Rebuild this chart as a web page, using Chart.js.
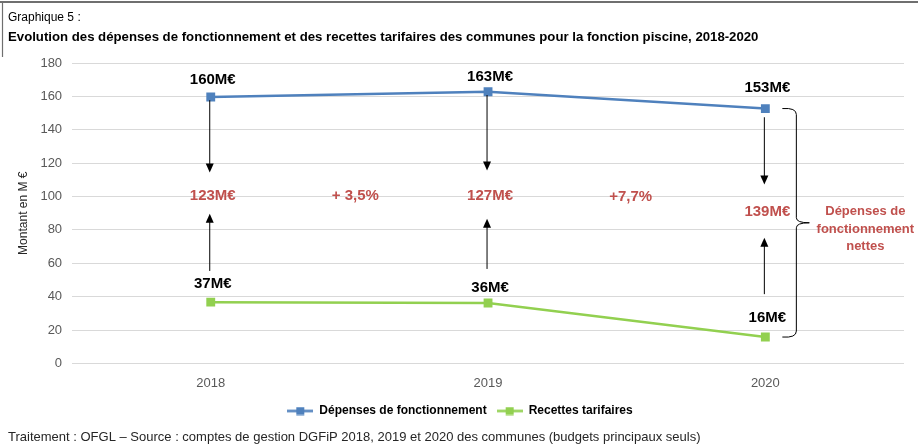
<!DOCTYPE html>
<html>
<head>
<meta charset="utf-8">
<script src="https://cdn.jsdelivr.net/npm/chart.js@4.4.1/dist/chart.umd.min.js"></script>
<style>
  html, body { margin: 0; padding: 0; background: #fff; }
  #wrap { position: relative; width: 918px; height: 444px; }
</style>
</head>
<body>
<div id="wrap"><canvas id="chart" width="918" height="444"></canvas></div>
<script>
// data
const years = ['2018', '2019', '2020'];
const depenses = [159.6, 162.8, 152.7];
const recettes = [36.7, 36.2, 15.8];
const depLabels = ['160M€', '163M€', '153M€'];
const recLabels = ['37M€', '36M€', '16M€'];
const netLabels = ['123M€', '127M€', '139M€'];
const growthLabels = ['+ 3,5%', '+7,7%'];

const FONT = "'Liberation Sans', Arial, sans-serif";
const RED = '#c0504d';
const BLUE = '#4f81bd';
const GREEN = '#92d050';

// annotation placement (value units on the y axis)
const netY = [100.5, 100.5, 91];
const growthY = [100.5, 99.5];
const downArrows = [[157.7, 114.4], [160.8, 115.6], [147.5, 107.2]];
const upArrows = [[55.4, 89.7], [56.6, 86.7], [41.5, 75.3]];
const depLabelY = [170, 171.5, 165];
const recLabelY = [47.5, 45, 27.5];

// legend icons : line with a square
function legendIcon(color) {
  const c = document.createElement('canvas');
  c.width = 26; c.height = 9;
  const x = c.getContext('2d');
  x.strokeStyle = color; x.lineWidth = 2.5;
  x.beginPath(); x.moveTo(0, 4.5); x.lineTo(26, 4.5); x.stroke();
  x.fillStyle = color; x.fillRect(9, 0.5, 8, 8);
  return c;
}
const icons = [legendIcon(BLUE), legendIcon(GREEN)];

function arrow(ctx, x, y1, y2) {
  const dir = y2 > y1 ? 1 : -1;
  ctx.beginPath();
  ctx.moveTo(x, y1); ctx.lineTo(x, y2 - dir * 8);
  ctx.stroke();
  ctx.beginPath();
  ctx.moveTo(x, y2); ctx.lineTo(x - 4, y2 - dir * 9); ctx.lineTo(x + 4, y2 - dir * 9);
  ctx.closePath(); ctx.fill();
}

const annotations = {
  id: 'annotations',
  afterDatasetsDraw(chart) {
    const ctx = chart.ctx, xs = chart.scales.x, ys = chart.scales.y;
    ctx.save();
    // frame bits
    ctx.strokeStyle = '#6f6f6f'; ctx.lineWidth = 2;
    ctx.beginPath(); ctx.moveTo(0, 2); ctx.lineTo(918, 2); ctx.stroke();
    ctx.lineWidth = 1.2;
    ctx.beginPath(); ctx.moveTo(2.5, 2); ctx.lineTo(2.5, 57); ctx.stroke();

    // titles
    ctx.fillStyle = '#000';
    ctx.textAlign = 'left'; ctx.textBaseline = 'middle';
    ctx.font = '12px ' + FONT;
    ctx.fillText('Graphique 5 :', 8, 18);
    ctx.font = 'bold 13.2px ' + FONT;
    ctx.fillText('Evolution des dépenses de fonctionnement et des recettes tarifaires des communes pour la fonction piscine, 2018-2020', 8, 37);
    ctx.font = '13px ' + FONT;
    ctx.fillStyle = '#262626';
    ctx.fillText('Traitement : OFGL – Source : comptes de gestion DGFiP 2018, 2019 et 2020 des communes (budgets principaux seuls)', 8, 437);

    // value labels
    ctx.textAlign = 'center';
    ctx.font = 'bold 15px ' + FONT;
    ctx.fillStyle = '#000';
    years.forEach((y, i) => {
      const px = xs.getPixelForValue(i);
      ctx.fillText(depLabels[i], px + 2, ys.getPixelForValue(depLabelY[i]));
      ctx.fillText(recLabels[i], px + 2, ys.getPixelForValue(recLabelY[i]));
    });

    // arrows
    ctx.strokeStyle = '#000'; ctx.fillStyle = '#000'; ctx.lineWidth = 1;
    years.forEach((y, i) => {
      const px = xs.getPixelForValue(i) - 1;
      arrow(ctx, px, ys.getPixelForValue(downArrows[i][0]), ys.getPixelForValue(downArrows[i][1]));
      arrow(ctx, px, ys.getPixelForValue(upArrows[i][0]), ys.getPixelForValue(upArrows[i][1]));
    });

    // net labels and growth
    ctx.fillStyle = RED;
    ctx.font = 'bold 15px ' + FONT;
    years.forEach((y, i) => {
      ctx.fillText(netLabels[i], xs.getPixelForValue(i) + 2, ys.getPixelForValue(netY[i]));
    });
    growthLabels.forEach((g, i) => {
      const mid = (xs.getPixelForValue(i) + xs.getPixelForValue(i + 1)) / 2;
      ctx.fillText(g, mid + 6 - i * 2, ys.getPixelForValue(growthY[i]));
    });

    // brace on the last year
    const bx = xs.getPixelForValue(2);
    const top = ys.getPixelForValue(depenses[2]);
    const bot = ys.getPixelForValue(recettes[2]);
    const mid = (top + bot) / 2;
    const x0 = bx + 17, x1 = bx + 31, x2 = bx + 44;
    ctx.strokeStyle = '#000'; ctx.lineWidth = 1;
    ctx.beginPath();
    ctx.moveTo(x0, top);
    ctx.quadraticCurveTo(x1, top - 1, x1, top + 6);
    ctx.lineTo(x1, mid - 5);
    ctx.quadraticCurveTo(x1, mid, x2, mid);
    ctx.quadraticCurveTo(x1, mid, x1, mid + 5);
    ctx.lineTo(x1, bot - 6);
    ctx.quadraticCurveTo(x1, bot + 1, x0, bot);
    ctx.stroke();

    ctx.fillStyle = RED;
    ctx.font = 'bold 13px ' + FONT;
    ['Dépenses de', 'fonctionnement', 'nettes'].forEach((t, k) => {
      ctx.fillText(t, bx + 100, mid - 11 + k * 17.5);
    });
    ctx.restore();
  }
};

new Chart(document.getElementById('chart'), {
  type: 'line',
  data: {
    labels: years,
    datasets: [
      {
        label: 'Dépenses de fonctionnement',
        data: depenses,
        borderColor: BLUE, backgroundColor: BLUE,
        borderWidth: 2.5, pointStyle: 'rect', pointRadius: 4.5, pointHoverRadius: 4.5
      },
      {
        label: 'Recettes tarifaires',
        data: recettes,
        borderColor: GREEN, backgroundColor: GREEN,
        borderWidth: 2.5, pointStyle: 'rect', pointRadius: 4.5, pointHoverRadius: 4.5
      }
    ]
  },
  options: {
    responsive: false,
    animation: false,
    layout: { padding: { top: 63, left: 16, right: 14, bottom: 17 } },
    plugins: {
      tooltip: { enabled: false },
      legend: {
        position: 'bottom',
        labels: {
          usePointStyle: true,
          pointStyleWidth: 26,
          color: '#000',
          padding: 10,
          font: { family: FONT, size: 12, weight: 'bold' },
          generateLabels(chart) {
            const items = Chart.defaults.plugins.legend.labels.generateLabels(chart);
            items.forEach((it, i) => { it.pointStyle = icons[i]; });
            return items;
          }
        }
      }
    },
    scales: {
      x: {
        offset: true,
        grid: { display: false },
        border: { display: false },
        ticks: { color: '#595959', font: { family: FONT, size: 13 }, padding: 4 }
      },
      y: {
        min: 0, max: 180,
        ticks: { stepSize: 20, color: '#595959', font: { family: FONT, size: 13 }, padding: 10 },
        grid: { color: '#d9d9d9', drawTicks: false },
        border: { display: false },
        title: { display: true, text: 'Montant en M €', color: '#262626', font: { family: FONT, size: 12 }, padding: 0 }
      }
    }
  },
  plugins: [annotations]
});
</script>
</body>
</html>
